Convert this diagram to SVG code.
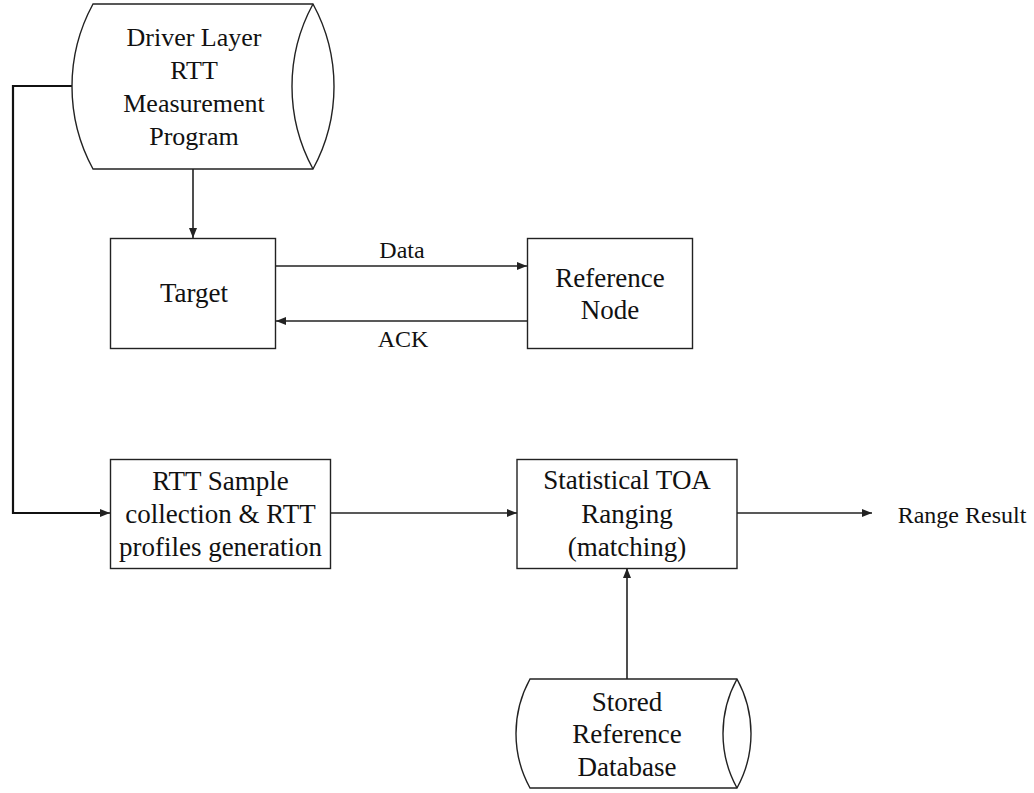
<svg xmlns="http://www.w3.org/2000/svg" width="1034" height="793" viewBox="0 0 1034 793">
<style>
.shape{fill:#fff;stroke:#222;stroke-width:1.4}
.line{fill:none;stroke:#222;stroke-width:1.6}
.thick{fill:none;stroke:#111;stroke-width:2.2}
text{font-family:"Liberation Serif","Times New Roman",serif;font-size:27px;fill:#111;text-anchor:middle}
text.cyl{font-size:26px}
text.lbl{font-size:24px}
</style>
<defs>
<marker id="ah" viewBox="0 0 10 8" refX="10" refY="4" markerWidth="10" markerHeight="8" markerUnits="userSpaceOnUse" orient="auto">
<path d="M0,0 L10,4 L0,8 Z" fill="#222"/>
</marker>
</defs>
<rect width="1034" height="793" fill="#fff"/>
<g id="connectors">
<path class="thick" d="M72,86 H13 V513 H100" />
<path class="line" d="M100,513 H110" marker-end="url(#ah)"/>
<path class="line" d="M193,169 V238" marker-end="url(#ah)"/>
<path class="line" d="M276,266 H527" marker-end="url(#ah)"/>
<path class="line" d="M527,321 H276" marker-end="url(#ah)"/>
<path class="line" d="M331,513 H517" marker-end="url(#ah)"/>
<path class="line" d="M737,513 H872" marker-end="url(#ah)"/>
<path class="line" d="M627,679 V568" marker-end="url(#ah)"/>
<text class="lbl" x="402" y="258">Data</text>
<text class="lbl" x="403" y="347">ACK</text>
</g>
<g id="driver">
<path class="shape" d="M93,4 H313 A172.5,172.5 0 0 1 313,169 H93 A172.5,172.5 0 0 1 93,4 Z"/>
<path class="shape" d="M313,4 A172.5,172.5 0 0 0 313,169"/>
<text class="cyl" x="194" y="46">Driver Layer</text>
<text class="cyl" x="194" y="79">RTT</text>
<text class="cyl" x="194" y="112">Measurement</text>
<text class="cyl" x="194" y="145">Program</text>
</g>
<g id="target">
<rect class="shape" x="110.5" y="238.5" width="165" height="110"/>
<text x="194" y="302">Target</text>
</g>
<g id="refnode">
<rect class="shape" x="527.5" y="238.5" width="165" height="110"/>
<text x="610" y="287">Reference</text>
<text x="610" y="319">Node</text>
</g>
<g id="rttsample">
<rect class="shape" x="110.5" y="459.5" width="220" height="109"/>
<text x="220.5" y="490">RTT Sample</text>
<text x="220.5" y="523">collection &amp; RTT</text>
<text x="220.5" y="556">profiles generation</text>
</g>
<g id="toa">
<rect class="shape" x="517" y="459.5" width="220" height="109"/>
<text x="627" y="489">Statistical TOA</text>
<text x="627" y="523">Ranging</text>
<text x="627" y="556">(matching)</text>
</g>
<g id="result">
<text class="lbl" x="962" y="523">Range Result</text>
</g>
<g id="db">
<path class="shape" d="M530,679 H737 A113,113 0 0 1 737,788 H530 A113,113 0 0 1 530,679 Z"/>
<path class="shape" d="M737,679 A113,113 0 0 0 737,788"/>
<text x="627" y="711">Stored</text>
<text x="627" y="743">Reference</text>
<text x="627" y="776">Database</text>
</g>
</svg>
